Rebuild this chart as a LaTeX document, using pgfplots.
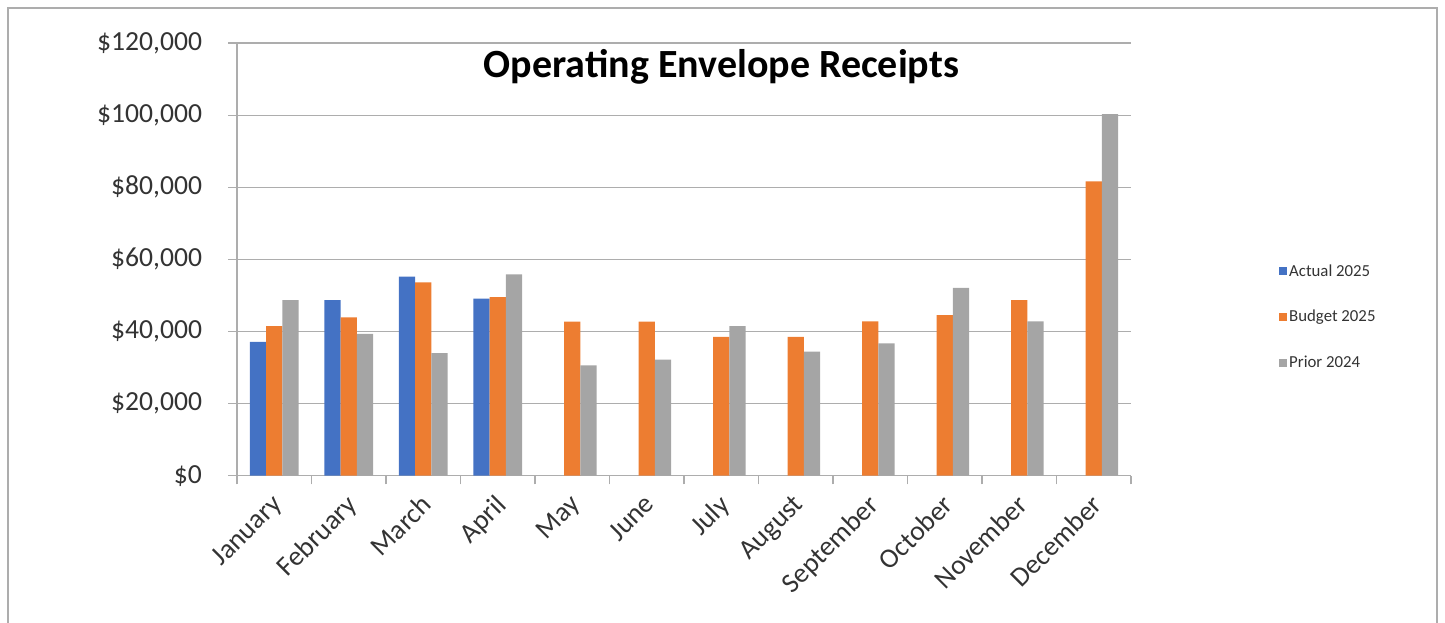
\documentclass[border=0pt]{standalone}
\usepackage{pgfplots}
\pgfplotsset{compat=1.18}
\usepackage{fontspec}
\setmainfont{Carlito}
\definecolor{cblue}{HTML}{4472C4}
\definecolor{corange}{HTML}{ED7D31}
\definecolor{cgray}{HTML}{A5A5A5}
\definecolor{gridc}{HTML}{ADADAD}
\definecolor{txt}{HTML}{333333}
\begin{document}
\begin{tikzpicture}
\useasboundingbox (0pt,0pt) rectangle (1083.75pt,467.25pt);
\draw[color=gridc,line width=0.9pt] (6pt,-22pt) -- (6pt,461.25pt) -- (1077.75pt,461.25pt) -- (1077.75pt,-22pt);
\node[font=\fontsize{30}{36}\selectfont\bfseries,text=black] at (541.1pt,417pt) {Operating Envelope Receipts};
\begin{axis}[
  at={(177.75pt,110.5pt)}, anchor=south west,
  width=670.5pt, height=324.5pt, scale only axis,
  ybar=0pt, bar width=12.2pt,
  xmin=-0.5, xmax=11.5, ymin=0, ymax=120000,
  scaled y ticks=false,
  axis lines*=left,
  axis line style={-,draw=gridc,line width=0.9pt},
  every outer x axis line/.append style={-},
  every outer y axis line/.append style={-},
  xtick={0,...,11},
  xticklabels={January,February,March,April,May,June,July,August,September,October,November,December},
  minor xtick={-0.5,0.5,...,11.5},
  major x tick style={draw=none},
  minor x tick style={draw=gridc,line width=0.9pt},
  y tick style={draw=gridc,line width=0.9pt},
  tick align=outside,
  major tick length=6.75pt, minor tick length=6.5pt,
  ytick={0,20000,40000,60000,80000,100000,120000},
  yticklabels={{\$0},{\$20,000},{\$40,000},{\$60,000},{\$80,000},{\$100,000},{\$120,000}},
  ymajorgrids, grid style={draw=gridc,line width=0.9pt},
  yticklabel style={font=\fontsize{20.7}{24}\selectfont, text=txt, xshift=-16pt},
  xticklabel style={font=\fontsize{20.7}{24}\selectfont, text=txt, rotate=45, anchor=north east, xshift=-3pt, yshift=1pt},
  legend image code/.code={\fill[#1,draw=none] (0pt,-3pt) rectangle (6pt,3pt);},
  legend style={at={(rel axis cs:1.161,0.367)}, anchor=west, draw=none, fill=none,
    font=\fontsize{12.6}{15}\selectfont, text=txt, row sep=21pt,
    legend cell align=left, nodes={inner sep=1.5pt}},
  clip=false,
]
\addplot[fill=cblue,draw=none] coordinates {(0,37100) (1,48700) (2,55200) (3,49100)};
\addplot[fill=corange,draw=none] coordinates {(0,41500) (1,43900) (2,53600) (3,49500) (4,42700) (5,42700) (6,38500) (7,38500) (8,42800) (9,44500) (10,48700) (11,81600)};
\addplot[fill=cgray,draw=none] coordinates {(0,48700) (1,39300) (2,34000) (3,55800) (4,30600) (5,32200) (6,41500) (7,34400) (8,36700) (9,52100) (10,42800) (11,100300)};
\legend{Actual 2025,Budget 2025,Prior 2024}
\end{axis}
\end{tikzpicture}
\end{document}
